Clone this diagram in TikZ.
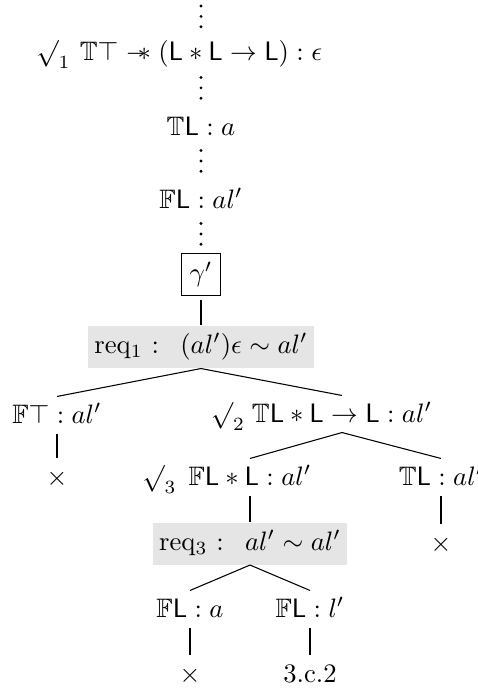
\documentclass[tikz,border=0pt]{standalone}
\usepackage{amssymb}
\newcommand{\wandop}{\mathrel{-\mkern-6mu\ast}}
\tikzset{
  fm/.style={inner sep=0pt, anchor=base, text height=9.75pt, text depth=3.75pt},
  ck/.style={inner sep=0pt, anchor=base},
  reqbox/.style={fill=black!10, inner xsep=2.5pt, inner ysep=0pt, text height=7.5pt, text depth=2.5pt, minimum height=15.75pt},
  gbox/.style={draw, line width=0.4pt, inner sep=3pt},
  edge/.style={line width=0.4pt},
  dotline/.style={line width=1.2pt, line cap=round, dash pattern=on 0pt off 3.9pt},
}
\begin{document}
\begin{tikzpicture}[x=0.375pt,y=-0.375pt]
\useasboundingbox (0,0) rectangle (478,689);
\coordinate (top) at (201,6);
\node[fm] (n1) at (201,60) {$\mathbb{T}\top \wandop (\mathsf{L} * \mathsf{L} \to \mathsf{L}) : \epsilon$};
\node[ck] (c1) at (53.5,60) {$\surd_1$};
\node[fm] (n2) at (201,135) {$\mathbb{T}\mathsf{L} : a$};
\node[fm] (n3) at (201,208) {$\mathbb{F}\mathsf{L} : al'$};
\node[gbox] (g) at (201,274.5) {$\gamma'$};
\node[reqbox] (r1) at (201,347) {req$_1$ :\hspace{8pt}$(al')\epsilon \sim al'$};
\node[fm] (n4) at (57,423) {$\mathbb{F}\top : al'$};
\node[fm] (x1) at (57,485) {$\times$};
\node[fm] (n5) at (342,422) {$\mathbb{T}\mathsf{L} * \mathsf{L} \to \mathsf{L} : al'$};
\node[ck] (c2) at (228,422) {$\surd_2$};
\node[fm] (n6) at (250,485) {$\mathbb{F}\mathsf{L} * \mathsf{L} : al'$};
\node[ck] (c3) at (159.5,485) {$\surd_3$};
\node[fm] (n7) at (441,485) {$\mathbb{T}\mathsf{L} : al'$};
\node[fm] (x2) at (441,551) {$\times$};
\node[reqbox] (r3) at (250,543.5) {req$_3$ :\hspace{8pt}$al' \sim al'$};
\node[fm] (n8) at (190,617) {$\mathbb{F}\mathsf{L} : a$};
\node[fm] (n9) at (310,617) {$\mathbb{F}\mathsf{L} : l'$};
\node[fm] (x3) at (190,682) {$\times$};
\node[fm] (n10) at (310,682) {3.c.2};
\draw[dotline, shorten >=2.4pt] (top) -- (n1.north);
\draw[dotline, shorten <=2.6pt, shorten >=3.6pt] (n1.south) -- (n2.north);
\draw[dotline, shorten <=1.875pt, shorten >=3.2pt] (n2.south) -- (n3.north);
\draw[dotline, shorten <=1.875pt, shorten >=2.4pt] (n3.south) -- (g.north);
\draw[edge, shorten <=1.5pt] (g.south) -- (r1.north);
\draw[edge] (r1.south) -- (n4.north);
\draw[edge] (r1.south) -- (n5.north);
\draw[edge] (n4.south) -- (x1.north);
\draw[edge] (n5.south) -- (n6.north);
\draw[edge] (n5.south) -- (n7.north);
\draw[edge] (n6.south) -- (r3.north);
\draw[edge] (n7.south) -- (x2.north);
\draw[edge] (r3.south) -- (n8.north);
\draw[edge] (r3.south) -- (n9.north);
\draw[edge] (n8.south) -- (x3.north);
\draw[edge] (n9.south) -- (n10.north);
\end{tikzpicture}
\end{document}
